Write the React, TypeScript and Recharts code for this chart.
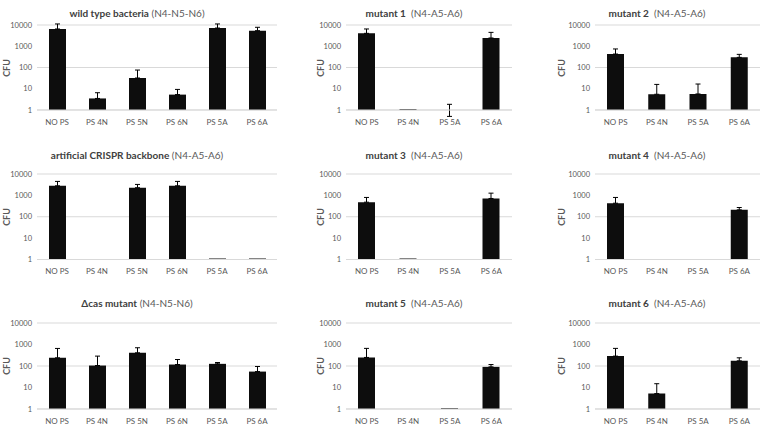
import React from "react";
import { BarChart, Bar, XAxis, YAxis, CartesianGrid, ErrorBar } from "recharts";

// categories
const catsN = ["NO PS", "PS 4N", "PS 5N", "PS 6N", "PS 5A", "PS 6A"];
const catsA = ["NO PS", "PS 4N", "PS 5A", "PS 6A"];
const yTicks = [1, 10, 100, 1000, 10000];

// CFU means (null = no bar) and upper error
const wildTypeVals = [6500, 3.5, 32, 5.3, 7200, 5400];
const wildTypeErr = [4700, 3, 44, 4, 4000, 2400];
const crisprVals = [2800, null, 2280, 2800, 1.1, 1.1];
const crisprErr = [1700, null, 970, 1700, null, null];
const dcasVals = [240, 105, 410, 117, 126, 55];
const dcasErr = [415, 183, 295, 83, 19, 40];

const mut1Vals = [4050, 1.1, 0.5, 2450];
const mut1Err = [2450, null, 1.35, 2050];
const mut2Vals = [430, 5.5, 5.7, 300];
const mut2Err = [315, 10.5, 11, 115];
const mut3Vals = [480, 1.1, null, 716];
const mut3Err = [320, null, null, 554];
const mut4Vals = [430, null, null, 210];
const mut4Err = [370, null, null, 60];
const mut5Vals = [250, null, 1.1, 91];
const mut5Err = [410, null, null, 26];
const mut6Vals = [288, 5.2, null, 174];
const mut6Err = [372, 9.8, null, 66];

const FONT = "Lato, 'Open Sans', sans-serif";
const GREY = "#595959";

const cols = [
  { plotLeft: 37, plotRight: 277, titleX: 137, cfuX: 6 },
  { plotLeft: 346, plotRight: 512, titleX: 414, cfuX: 320 },
  { plotLeft: 595, plotRight: 760, titleX: 657, cfuX: 561 },
];
const rows = [
  { top: 25, bottom: 110, titleY: 13 },
  { top: 174, bottom: 259.5, titleY: 155 },
  { top: 323, bottom: 409, titleY: 303 },
];

interface PanelProps {
  title: string;
  sub: string;
  cats: string[];
  vals: (number | null)[];
  errs: (number | null)[];
  col: number;
  row: number;
}

function Panel({ title, sub, cats, vals, errs, col, row }: PanelProps) {
  const c = cols[col];
  const r = rows[row];
  const axisW = 45;
  const data = cats.map((name, i) => ({
    name,
    v: vals[i],
    err: errs[i] == null ? null : [0, errs[i]],
  }));
  const w = c.plotRight - c.plotLeft + axisW;
  const h = r.bottom - r.top + 10 + 22;
  return (
    <>
      <div
        style={{
          position: "absolute",
          left: c.titleX,
          top: r.titleY,
          transform: "translate(-50%, -50%)",
          whiteSpace: "nowrap",
          fontFamily: FONT,
          fontSize: 10,
        }}
      >
        <span style={{ fontWeight: 700, color: "#404040" }}>{title}</span>
        <span style={{ color: GREY }}>{sub}</span>
      </div>
      <div
        style={{
          position: "absolute",
          left: c.cfuX,
          top: (r.top + r.bottom) / 2,
          transform: "translate(-50%, -50%) rotate(-90deg)",
          fontFamily: FONT,
          fontSize: 9,
          fontWeight: 700,
          color: GREY,
        }}
      >
        CFU
      </div>
      <div style={{ position: "absolute", left: c.plotLeft - axisW, top: r.top - 10 }}>
        <BarChart width={w} height={h} data={data} margin={{ top: 10, right: 0, bottom: 0, left: 0 }} barSize={17}>
          <CartesianGrid horizontal vertical={false} stroke="#d9d9d9" />
          <XAxis
            dataKey="name"
            height={22}
            tickLine={false}
            tickSize={0}
            tickMargin={9}
            axisLine={{ stroke: "#d9d9d9" }}
            tick={{ fontSize: 8, fill: GREY, fontFamily: FONT }}
            interval={0}
          />
          <YAxis
            scale="log"
            domain={[1, 10000]}
            ticks={yTicks}
            allowDataOverflow
            width={axisW}
            tickLine={false}
            tickSize={0}
            tickMargin={5}
            axisLine={false}
            tick={{ fontSize: 7.5, fill: GREY, fontFamily: FONT }}
          />
          <Bar dataKey="v" fill="#0d0d0d" isAnimationActive={false}>
            <ErrorBar dataKey="err" direction="y" width={2.5} stroke="#000" strokeWidth={1} />
          </Bar>
        </BarChart>
      </div>
    </>
  );
}

export default function App() {
  return (
    <div style={{ position: "absolute", left: 0, top: 0, width: 760, height: 425, background: "#fff", overflow: "hidden" }}>
      <Panel title="wild type bacteria" sub=" (N4-N5-N6)" cats={catsN} vals={wildTypeVals} errs={wildTypeErr} col={0} row={0} />
      <Panel title="mutant 1" sub={"\u00a0\u00a0(N4-A5-A6)"} cats={catsA} vals={mut1Vals} errs={mut1Err} col={1} row={0} />
      <Panel title="mutant 2" sub={"\u00a0\u00a0(N4-A5-A6)"} cats={catsA} vals={mut2Vals} errs={mut2Err} col={2} row={0} />
      <Panel title="artificial CRISPR backbone" sub=" (N4-A5-A6)" cats={catsN} vals={crisprVals} errs={crisprErr} col={0} row={1} />
      <Panel title="mutant 3" sub={"\u00a0\u00a0(N4-A5-A6)"} cats={catsA} vals={mut3Vals} errs={mut3Err} col={1} row={1} />
      <Panel title="mutant 4" sub={"\u00a0\u00a0(N4-A5-A6)"} cats={catsA} vals={mut4Vals} errs={mut4Err} col={2} row={1} />
      <Panel title="Δcas mutant" sub=" (N4-N5-N6)" cats={catsN} vals={dcasVals} errs={dcasErr} col={0} row={2} />
      <Panel title="mutant 5" sub={"\u00a0\u00a0(N4-A5-A6)"} cats={catsA} vals={mut5Vals} errs={mut5Err} col={1} row={2} />
      <Panel title="mutant 6" sub={"\u00a0\u00a0(N4-A5-A6)"} cats={catsA} vals={mut6Vals} errs={mut6Err} col={2} row={2} />
    </div>
  );
}
